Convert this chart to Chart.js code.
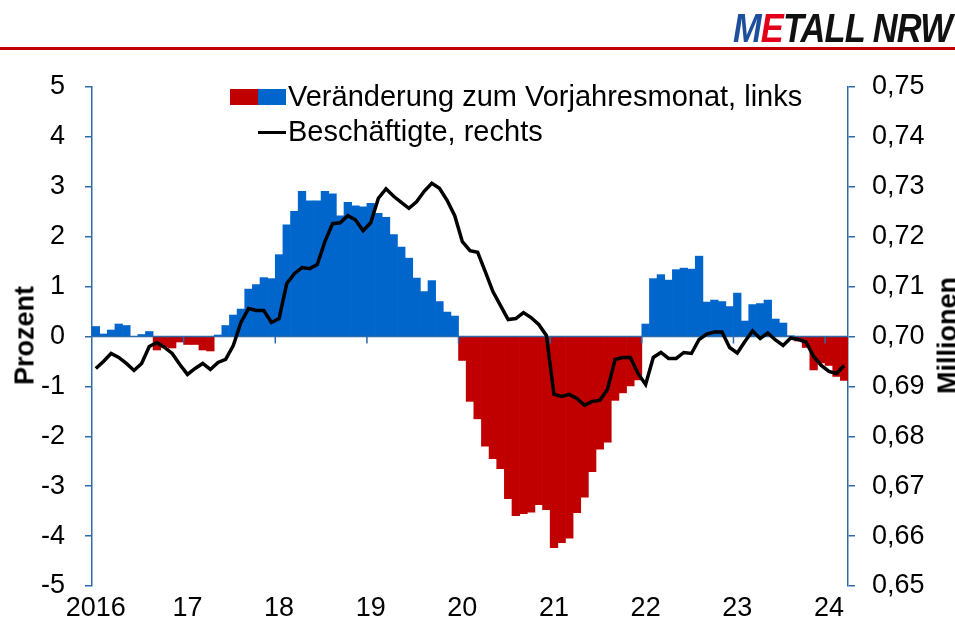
<!DOCTYPE html>
<html>
<head>
<meta charset="utf-8">
<script src="https://cdn.jsdelivr.net/npm/chart.js@4"></script>
<style>
  body { margin: 0; overflow: hidden; background: #fff; }
  #wrap { position: relative; width: 955px; height: 635px; font-family: "Liberation Sans", Arial, sans-serif; }
  #chart { position: absolute; left: 0; top: 0; }
  .rule { position: absolute; left: 0; top: 47px; width: 955px; height: 3px; background: #c00000; }
  .logo { position: absolute; left: 733px; top: 6px; font-family: "Liberation Sans", Arial, sans-serif;
          font-weight: bold; font-style: italic; font-size: 40px; letter-spacing: -1px; white-space: nowrap; color: #111;
          transform: scaleX(0.86); transform-origin: left top; }
  .logo .m { color: #1d4f9c; }
  .logo .e { color: #e2001a; }
  .leg { position: absolute; font-size: 29px; color: #000; white-space: nowrap; line-height: 1; }
  .sw { position: absolute; }
  .title { position: absolute; font-size: 27px; font-weight: bold; white-space: nowrap; transform: rotate(-90deg); transform-origin: center center; }
</style>
</head>
<body>
<div id="wrap">
  <canvas id="chart" width="955" height="635"></canvas>
  <div class="rule"></div>
  <div class="logo"><span class="m">M</span><span class="e">E</span>TALL NRW</div>

  <div class="sw" style="left:230px;top:89px;width:28px;height:16px;background:#c00000"></div>
  <div class="sw" style="left:258px;top:89px;width:28px;height:16px;background:#0066cc"></div>
  <div class="leg" style="left:288px;top:82px">Veränderung zum Vorjahresmonat, links</div>
  <div class="sw" style="left:258px;top:131px;width:28px;height:3px;background:#000"></div>
  <div class="leg" style="left:288px;top:117px">Beschäftigte, rechts</div>

  <div class="title" style="left:-30px;top:320px;width:110px;text-align:center">Prozent</div>
  <div class="title" style="left:883px;top:320px;width:130px;text-align:center">Millionen</div>
</div>
<script>
// Jahre (Beschriftung je Januar)
const yearLabels = ["2016", "17", "18", "19", "20", "21", "22", "23", "24"];

// Veränderung zum Vorjahresmonat in Prozent (Jan 2016 - Mär 2024)
const changePct = [
  0.20, 0.05, 0.13, 0.25, 0.22, 0.00, 0.04, 0.10, -0.27, -0.21, -0.23, -0.11,
  -0.16, -0.16, -0.27, -0.29, 0.03, 0.22, 0.43, 0.55, 0.95, 1.04, 1.18, 1.16,
  1.64, 2.24, 2.51, 2.91, 2.72, 2.72, 2.91, 2.86, 2.42, 2.69, 2.62, 2.60,
  2.67, 2.47, 2.39, 2.04, 1.79, 1.57, 1.17, 0.90, 1.12, 0.70, 0.49, 0.41,
  -0.48, -1.30, -1.65, -2.20, -2.45, -2.65, -3.25, -3.59, -3.55, -3.52, -3.37, -3.47,
  -4.23, -4.13, -4.04, -3.53, -3.22, -2.71, -2.26, -2.12, -1.28, -1.13, -0.99, -0.87,
  0.25, 1.16, 1.24, 1.13, 1.34, 1.37, 1.35, 1.61, 0.69, 0.73, 0.70, 0.60,
  0.87, 0.31, 0.64, 0.66, 0.73, 0.35, 0.27, 0.01, -0.09, -0.22, -0.67, -0.53,
  -0.58, -0.80, -0.88
];

// Beschäftigte in Millionen
const employees = [
  0.6936, 0.6950, 0.6966, 0.6958, 0.6946, 0.6932, 0.6946, 0.6980, 0.6988, 0.6978, 0.6966, 0.6944,
  0.6924, 0.6936, 0.6946, 0.6934, 0.6948, 0.6954, 0.6982, 0.7028, 0.7056, 0.7052, 0.7052, 0.7028,
  0.7036, 0.7106, 0.7126, 0.7138, 0.7136, 0.7144, 0.7190, 0.7226, 0.7228, 0.7242, 0.7234, 0.7212,
  0.7228, 0.7277, 0.7296, 0.7281, 0.7269, 0.7257, 0.7270, 0.7291, 0.7307, 0.7297, 0.7273, 0.7242,
  0.7190, 0.7172, 0.7169, 0.7130, 0.7090, 0.7062, 0.7034, 0.7036, 0.7048, 0.7038, 0.7024, 0.7002,
  0.6884, 0.6880, 0.6884, 0.6876, 0.6862, 0.6870, 0.6872, 0.6894, 0.6954, 0.6958, 0.6958, 0.6926,
  0.6904, 0.6958, 0.6968, 0.6956, 0.6956, 0.6968, 0.6966, 0.6994, 0.7005, 0.7009, 0.7009, 0.6978,
  0.6967, 0.6990, 0.7011, 0.6996, 0.7007, 0.6993, 0.6982, 0.6997, 0.6994, 0.6989, 0.6960, 0.6942,
  0.6930, 0.6926, 0.6942
];

const labels = changePct.map((v, i) => yearLabels[Math.floor(i / 12)] + "-" + (i % 12 + 1));

const blue = "#0066cc";
const red = "#c00000";
const axisColor = "#2e6aa8";
const tickFont = { family: "Liberation Sans, Arial, sans-serif", size: 27 };

// Nulllinie mit Jahresstrichen, über den Balken
const zeroLine = {
  id: "zeroLine",
  afterDatasetDraw(chart, args) {
    if (args.index !== 1) return;
    const { ctx, chartArea, scales } = chart;
    const y0 = scales.y.getPixelForValue(0);
    const half = (scales.x.getPixelForValue(1) - scales.x.getPixelForValue(0)) / 2;
    ctx.save();
    ctx.strokeStyle = axisColor;
    ctx.lineWidth = 1.5;
    ctx.beginPath();
    ctx.moveTo(chartArea.left, y0);
    ctx.lineTo(chartArea.right, y0);
    for (let i = 12; i < labels.length; i += 12) {
      const px = scales.x.getPixelForValue(i) - half;
      ctx.moveTo(px, y0);
      ctx.lineTo(px, y0 + 7);
    }
    ctx.stroke();
    ctx.restore();
  }
};

const ctx = document.getElementById("chart").getContext("2d");

new Chart(ctx, {
  type: "bar",
  data: {
    labels: labels,
    datasets: [
      {
        type: "line",
        data: employees,
        yAxisID: "y1",
        borderColor: "#000",
        borderWidth: 3.5,
        pointRadius: 0,
        tension: 0,
        order: 0
      },
      {
        type: "bar",
        data: changePct,
        yAxisID: "y",
        backgroundColor: changePct.map(v => (v < 0 ? red : blue)),
        barPercentage: 1,
        categoryPercentage: 1,
        borderWidth: 0,
        order: 1
      }
    ]
  },
  options: {
    responsive: false,
    animation: false,
    devicePixelRatio: 1,
    layout: { padding: { top: 87, left: 0, right: 0, bottom: 0 } },
    plugins: { legend: { display: false }, tooltip: { enabled: false } },
    scales: {
      x: {
        grid: { display: false, drawTicks: false },
        border: { display: false },
        ticks: {
          autoSkip: false,
          maxRotation: 0,
          padding: 6,
          color: "#000",
          font: tickFont,
          callback: (v, i) => (i % 12 === 0 ? yearLabels[i / 12] : "")
        },
        afterFit: s => { s.height = 49; }
      },
      y: {
        position: "left",
        min: -5,
        max: 5,
        ticks: { stepSize: 1, padding: 20, color: "#000", font: tickFont },
        grid: { drawOnChartArea: false, color: axisColor, tickLength: 7, lineWidth: 1.5 },
        border: { color: axisColor, width: 1.5 },
        afterFit: s => { s.width = 92; }
      },
      y1: {
        position: "right",
        min: 0.65,
        max: 0.75,
        ticks: {
          stepSize: 0.01,
          padding: 17,
          color: "#000",
          font: tickFont,
          callback: v => v.toFixed(2).replace(".", ",")
        },
        grid: { drawOnChartArea: false, color: axisColor, tickLength: 7, lineWidth: 1.5 },
        border: { color: axisColor, width: 1.5 },
        afterFit: s => { s.width = 107; }
      }
    }
  },
  plugins: [zeroLine]
});
</script>
</body>
</html>
